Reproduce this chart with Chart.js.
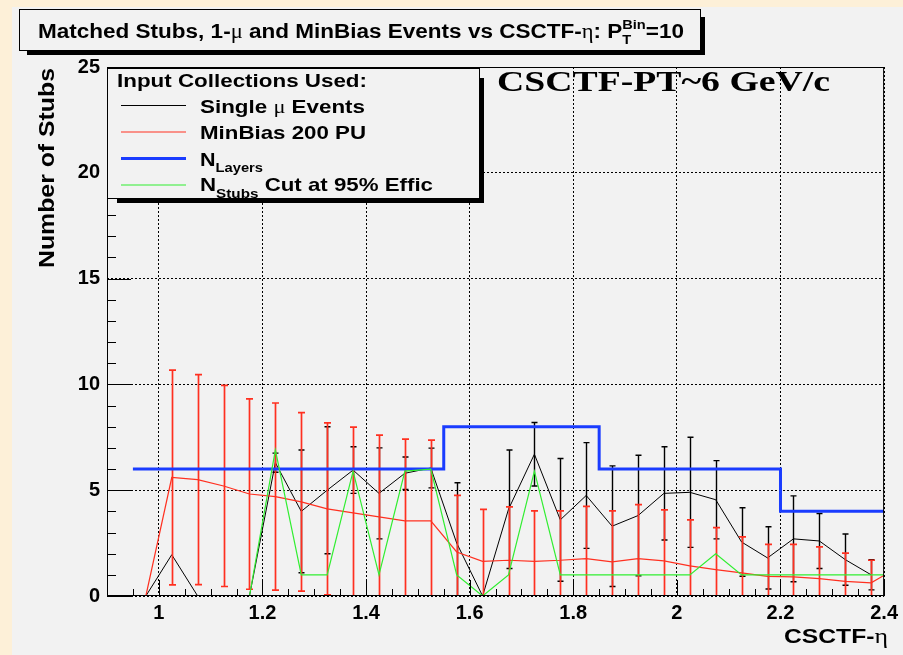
<!DOCTYPE html>
<html>
<head>
<meta charset="utf-8">
<script src="https://cdn.jsdelivr.net/npm/chart.js@4.4.1/dist/chart.umd.min.js"></script>
<style>
  html, body { margin: 0; padding: 0; background: #fdf0d8; }
  canvas { display: block; }
</style>
</head>
<body>
<canvas id="stubs" width="903" height="655"></canvas>
<script>
// Bin centres in CSCTF-eta (0.05 wide); the last bin lies just past the frame edge.
const etaBins = [0.925, 0.975, 1.025, 1.075, 1.125, 1.175, 1.225, 1.275, 1.325, 1.375,
                 1.425, 1.475, 1.525, 1.575, 1.625, 1.675, 1.725, 1.775, 1.825, 1.875,
                 1.925, 1.975, 2.025, 2.075, 2.125, 2.175, 2.225, 2.275, 2.325, 2.375, 2.425];

// Single-muon events: matched stubs and their errors
const singleMu    = [0, 0, 1.95, 0, 0, 0, 6.3, 4.0, 5.0, 5.95,
                     4.85, 5.8, 6.05, 2.5, 0, 4.1, 6.7, 3.6, 4.75, 3.3,
                     3.8, 4.85, 4.9, 4.55, 2.55, 1.8, 2.7, 2.6, 1.72, 1.0, null];
const singleMuErr = [0, 0, 0, 0, 0, 0, 0.45, 2.9, 3.0, 1.1,
                     2.15, 0.77, 0.94, 2.85, 0, 2.8, 1.5, 2.9, 2.5, 2.85,
                     2.85, 2.2, 2.6, 1.85, 1.62, 1.47, 2.03, 1.3, 1.21, 0.71, 0];

// MinBias, 200 pile-up
const minBias    = [0, 0, 5.6, 5.5, 5.2, 4.82, 4.7, 4.45, 4.12, 3.93,
                    3.74, 3.55, 3.55, 2.08, 1.64, 1.69, 1.64, 1.69, 1.77, 1.61,
                    1.77, 1.66, 1.42, 1.25, 1.09, 0.93, 0.9, 0.82, 0.69, 0.62, 1.34];
const minBiasErr = [0, 0, 5.07, 4.96, 4.75, 4.5, 4.42, 4.22, 4.06, 4.05,
                    3.86, 3.86, 3.82, 2.68, 2.45, 2.52, 2.38, 2.33, 2.47, 2.41,
                    2.55, 2.41, 2.18, 1.98, 1.7, 1.51, 1.54, 1.5, 1.34, 1.07, 0];

// N_stubs cut giving 95% efficiency
const nStubsCut = [0, 0, 0, 0, 0, 0, 6.9, 1, 1, 5.9,
                   1, 5.9, 6, 1, 0, 1, 5.9, 1, 1, 1,
                   1, 1, 1, 2, 1, 1, 1, 1, 1, 1, 1];

// Number of layers, as a step function over eta
const nLayersEdges = [0.95, 1.55, 1.85, 2.2, 2.4];
const nLayers      = [6, 8, 6, 4, 4];

const xTicks = [1, 1.2, 1.4, 1.6, 1.8, 2, 2.2, 2.4];
const yTicks = [0, 5, 10, 15, 20, 25];

const RED = '#ff3020', BLUE = '#1a3cff', GREEN = '#30ee30', BLACK = '#000000';
const PANEL = '#f2f2f2', CREAM = '#fdf0d8';
const SANS = '"Liberation Sans", Arial, sans-serif';
const SERIF = '"Liberation Serif", "Times New Roman", serif';

const pts = (xs, ys) => xs.map((x, i) => ({ x: x, y: ys[i] }));

// ---- rich text: segments with their own font and vertical offset, squeezed to a width
function segWidth(ctx, s) { ctx.font = s.font; return ctx.measureText(s.t).width; }
function layoutRich(ctx, segs) {
  let x = 0, prevStart = 0, prevW = 0;
  const out = [];
  segs.forEach(s => {
    const w = segWidth(ctx, s);
    if (s.stack) {
      out.push({ s, x: prevStart });
      x = prevStart + Math.max(prevW, w);
      prevW = Math.max(prevW, w);
    } else {
      out.push({ s, x });
      prevStart = x; prevW = w;
      x += w;
    }
  });
  return { items: out, width: x };
}
function drawRich(ctx, segs, x, y, targetW, align) {
  const lay = layoutRich(ctx, segs);
  const sx = targetW ? targetW / lay.width : 1;
  const w = lay.width * sx;
  const x0 = align === 'right' ? x - w : (align === 'center' ? x - w / 2 : x);
  ctx.save();
  ctx.translate(x0, y);
  ctx.scale(sx, 1);
  ctx.textBaseline = 'alphabetic';
  ctx.textAlign = 'left';
  ctx.fillStyle = BLACK;
  lay.items.forEach(it => {
    ctx.font = it.s.font;
    ctx.fillText(it.s.t, it.x, it.s.dy || 0);
  });
  ctx.restore();
}

// ---- boxes with a dark drop shadow along the right and bottom edges
function shadowBox(ctx, x1, y1, x2, y2, inset, thick) {
  ctx.fillStyle = BLACK;
  ctx.fillRect(x2, y1 + inset, thick, y2 - y1 - inset + thick);
  ctx.fillRect(x1 + inset, y2, x2 - x1 - inset + thick, thick);
  ctx.fillStyle = PANEL;
  ctx.fillRect(x1, y1, x2 - x1, y2 - y1);
  ctx.strokeStyle = BLACK;
  ctx.lineWidth = 1;
  ctx.strokeRect(x1 + 0.5, y1 + 0.5, x2 - x1 - 1, y2 - y1 - 1);
}

const backgroundPlugin = {
  id: 'canvasBackground',
  beforeDraw(chart) {
    const ctx = chart.ctx;
    ctx.save();
    ctx.fillStyle = CREAM;
    ctx.fillRect(0, 0, chart.width, chart.height);
    ctx.fillStyle = PANEL;
    ctx.fillRect(12, 7, chart.width - 12, chart.height - 7);
    ctx.restore();
  }
};

// vertical error bars with caps, drawn right after their own series
const errorBarPlugin = {
  id: 'errorBars',
  afterDatasetDraw(chart, args) {
    const ds = chart.data.datasets[args.index];
    if (!ds.errors) return;
    const xs = chart.scales.x, ys = chart.scales.y, a = chart.chartArea;
    const ctx = chart.ctx;
    ctx.save();
    ctx.beginPath();
    ctx.rect(a.left, a.top, a.right - a.left, a.bottom - a.top);
    ctx.clip();
    ctx.strokeStyle = ds.borderColor;
    ctx.lineWidth = ds.errorWidth;
    ds.data.forEach((p, i) => {
      const e = ds.errors[i];
      if (p.y === null || !e) return;
      const px = Math.round(xs.getPixelForValue(p.x)) + 0.5;
      const top = ys.getPixelForValue(p.y + e);
      const bot = ys.getPixelForValue(p.y - e);
      ctx.beginPath();
      ctx.moveTo(px, top); ctx.lineTo(px, bot);
      ctx.moveTo(px - ds.capHalf, top); ctx.lineTo(px + ds.capHalf, top);
      ctx.moveTo(px - ds.capHalf, bot); ctx.lineTo(px + ds.capHalf, bot);
      ctx.stroke();
    });
    ctx.restore();
  }
};

// ticks pointing into the frame, the frame itself, legend and text
const decorPlugin = {
  id: 'decor',
  afterDraw(chart) {
    const ctx = chart.ctx, a = chart.chartArea;
    const xs = chart.scales.x, ys = chart.scales.y;
    ctx.save();
    ctx.strokeStyle = BLACK;
    ctx.lineWidth = 1;
    ctx.beginPath();
    // y axis: majors every 5, minors every 1
    for (let v = ys.min; v <= ys.max; v += 1) {
      const py = Math.round(ys.getPixelForValue(v)) + 0.5;
      const len = yTicks.includes(v) ? 24 : 9;
      ctx.moveTo(a.left, py); ctx.lineTo(a.left + len, py);
    }
    // x axis: majors every 0.2, minors every 0.05
    for (let k = 1; k * 0.05 + xs.min <= xs.max + 1e-9; k++) {
      const v = +(xs.min + k * 0.05).toFixed(3);
      const px = Math.round(xs.getPixelForValue(v)) + 0.5;
      const len = xTicks.some(t => Math.abs(t - v) < 1e-6) ? 16 : 7;
      ctx.moveTo(px, a.bottom); ctx.lineTo(px, a.bottom - len);
    }
    ctx.stroke();
    ctx.strokeRect(a.left + 0.5, a.top + 0.5, a.right - a.left - 1, a.bottom - a.top - 1);

    // legend
    shadowBox(ctx, 107, 68, 480, 199, 10, 4);
    const B19 = 'bold 19px ' + SANS, B12 = 'bold 13px ' + SANS, G19 = '19px ' + SERIF;
    drawRich(ctx, [{ t: 'Input Collections Used:', font: B19 }], 117, 87, 250);
    const entries = [
      { y: 105.5, color: BLACK, w: 1, segs: [{ t: 'Single ', font: B19 }, { t: '\u03bc', font: G19 }, { t: ' Events', font: B19 }], tw: 165, by: 7 },
      { y: 132, color: RED, w: 1.2, segs: [{ t: 'MinBias 200 PU', font: B19 }], tw: 166, by: 7 },
      { y: 158.5, color: BLUE, w: 3, segs: [{ t: 'N', font: B19 }, { t: 'Layers', font: B12, dy: 6 }], tw: 63, by: 7.5 },
      { y: 185, color: GREEN, w: 1.2, segs: [{ t: 'N', font: B19 }, { t: 'Stubs', font: B12, dy: 7 }, { t: ' Cut at 95% Effic', font: B19 }], tw: 233, by: 5.5 }
    ];
    entries.forEach(en => {
      ctx.strokeStyle = en.color;
      ctx.lineWidth = en.w;
      ctx.beginPath();
      ctx.moveTo(121, en.y); ctx.lineTo(186, en.y);
      ctx.stroke();
      drawRich(ctx, en.segs, 200, en.y + en.by, en.tw);
    });

    // title box
    shadowBox(ctx, 19, 9, 701, 51, 8, 4);
    drawRich(ctx, [
      { t: 'Matched Stubs, 1-', font: 'bold 20px ' + SANS },
      { t: '\u03bc', font: '20px ' + SERIF },
      { t: ' and MinBias Events vs CSCTF-', font: 'bold 20px ' + SANS },
      { t: '\u03b7', font: '20px ' + SERIF },
      { t: ': P', font: 'bold 20px ' + SANS },
      { t: 'Bin', font: 'bold 13px ' + SANS, dy: -9 },
      { t: 'T', font: 'bold 13px ' + SANS, dy: 6, stack: true },
      { t: '=10', font: 'bold 20px ' + SANS }
    ], 38, 37.5, 646);

    // annotation
    drawRich(ctx, [{ t: 'CSCTF-PT~6 GeV/c', font: 'bold 30px ' + SERIF }], 497, 91, 333);

    // axis titles
    drawRich(ctx, [{ t: 'CSCTF-', font: 'bold 20px ' + SANS }, { t: '\u03b7', font: '21px ' + SERIF }], 888, 643, 104, 'right');
    ctx.save();
    ctx.translate(54, 268);
    ctx.rotate(-Math.PI / 2);
    drawRich(ctx, [{ t: 'Number of Stubs', font: 'bold 22px ' + SANS }], 0, 0, 200);
    ctx.restore();
    ctx.restore();
  }
};

const gridOpts = { color: BLACK, lineWidth: 1, drawTicks: false };
const borderOpts = { display: false, dash: [2, 2] };

new Chart(document.getElementById('stubs'), {
  type: 'line',
  data: {
    datasets: [
      { label: 'N_Stubs Cut at 95% Effic', data: pts(etaBins, nStubsCut), borderColor: GREEN, borderWidth: 1.2, clip: 0 },
      { label: 'N_Layers', data: pts(nLayersEdges, nLayers), borderColor: BLUE, borderWidth: 3, stepped: true, clip: 0 },
      { label: 'MinBias 200 PU', data: pts(etaBins, minBias), borderColor: RED, borderWidth: 1.2, clip: 0,
        errors: minBiasErr, errorWidth: 1.7, capHalf: 3.5 },
      { label: 'Single \u03bc Events', data: pts(etaBins, singleMu), borderColor: BLACK, borderWidth: 1, clip: 0,
        errors: singleMuErr, errorWidth: 1.4, capHalf: 3 }
    ]
  },
  options: {
    responsive: false,
    devicePixelRatio: 1,
    animation: false,
    events: [],
    elements: { point: { radius: 0 }, line: { tension: 0, fill: false } },
    layout: { padding: { top: 67, right: 13, left: 0, bottom: 0 } },
    plugins: { legend: { display: false }, tooltip: { enabled: false }, title: { display: false } },
    scales: {
      x: {
        type: 'linear', min: 0.9, max: 2.4,
        afterBuildTicks: s => { s.ticks = xTicks.map(v => ({ value: v })); },
        afterFit: s => { s.height = 59; },
        grid: gridOpts, border: borderOpts,
        ticks: { color: BLACK, padding: 5, maxRotation: 0, autoSkip: false,
                 font: { family: SANS, size: 20, weight: 'bold' }, callback: v => String(v) }
      },
      y: {
        type: 'linear', min: 0, max: 25,
        afterBuildTicks: s => { s.ticks = yTicks.map(v => ({ value: v })); },
        afterFit: s => { s.width = 107; },
        grid: gridOpts, border: borderOpts,
        ticks: { color: BLACK, padding: 7, autoSkip: false,
                 font: { family: SANS, size: 20, weight: 'bold' }, callback: v => String(v) }
      }
    }
  },
  plugins: [backgroundPlugin, errorBarPlugin, decorPlugin]
});
</script>
</body>
</html>
